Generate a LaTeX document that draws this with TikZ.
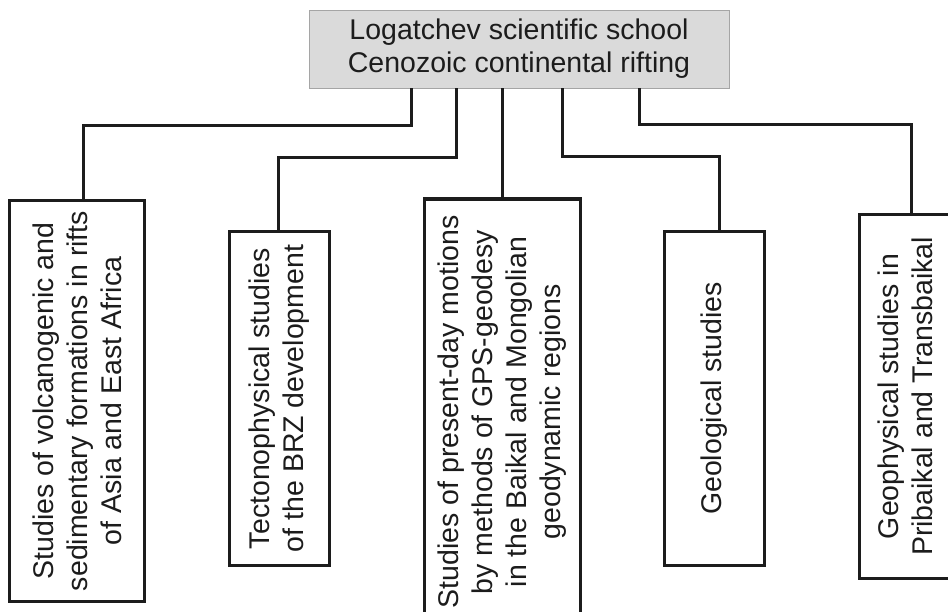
\documentclass[tikz,border=0pt]{standalone}
\usepackage{fontspec}
\setmainfont{Liberation Sans}
\definecolor{headfill}{RGB}{218,218,218}
\definecolor{headrim}{RGB}{165,165,165}
\definecolor{ink}{RGB}{28,28,28}

\begin{document}
\begin{tikzpicture}[x=1pt,y=-1pt,
  head/.style={draw=headrim,fill=headfill,line width=0.8pt,minimum width=420pt,minimum height=78pt,
    inner sep=0pt,align=center,text=ink,font=\fontsize{28.5}{33}\selectfont},
  branch/.style={draw=ink,line width=3.2pt,rotate=90,inner sep=0pt,align=center,text=ink,
    font=\fontsize{28.5}{34}\selectfont},
  link/.style={ink,line width=3pt}]
  \path[use as bounding box] (0,0) rectangle (948,612);
  \clip (0,0) rectangle (948,612);

  % school and its five lines of study
  \node[head] (school) at (519,49) {Logatchev scientific school\\Cenozoic continental rifting};
  \node[branch,minimum width=401pt,minimum height=135pt] (volc) at (77,401)
    {Studies of volcanogenic and\\sedimentary formations in rifts\\of Asia and East Africa};
  \node[branch,minimum width=334pt,minimum height=100pt] (tecto) at (279.5,398.5)
    {Tectonophysical studies\\of the BRZ development};
  \node[branch,minimum width=426pt,minimum height=156pt] (gps) at (502.5,412)
    {Studies of present-day motions\\by methods of GPS-geodesy\\in the Baikal and Mongolian\\geodynamic regions};
  \node[branch,minimum width=334pt,minimum height=100pt] (geol) at (714.5,398.5)
    {Geological studies};
  \node[branch,minimum width=364pt,minimum height=92pt] (geoph) at (905.5,396.5)
    {Geophysical studies in\\Pribaikal and Transbaikal};

  % connectors
  \draw[link] (school.south -| 411,0) -- (411,126) -| (volc.east -| 83,0);
  \draw[link] (school.south -| 456,0) -- (456,158) -| (tecto.east -| 278,0);
  \draw[link] (school.south -| 502,0) -- (gps.east -| 502,0);
  \draw[link] (school.south -| 562,0) -- (562,157) -| (geol.east -| 719,0);
  \draw[link] (school.south -| 639,0) -- (639,125) -| (geoph.east -| 911,0);
\end{tikzpicture}
\end{document}
